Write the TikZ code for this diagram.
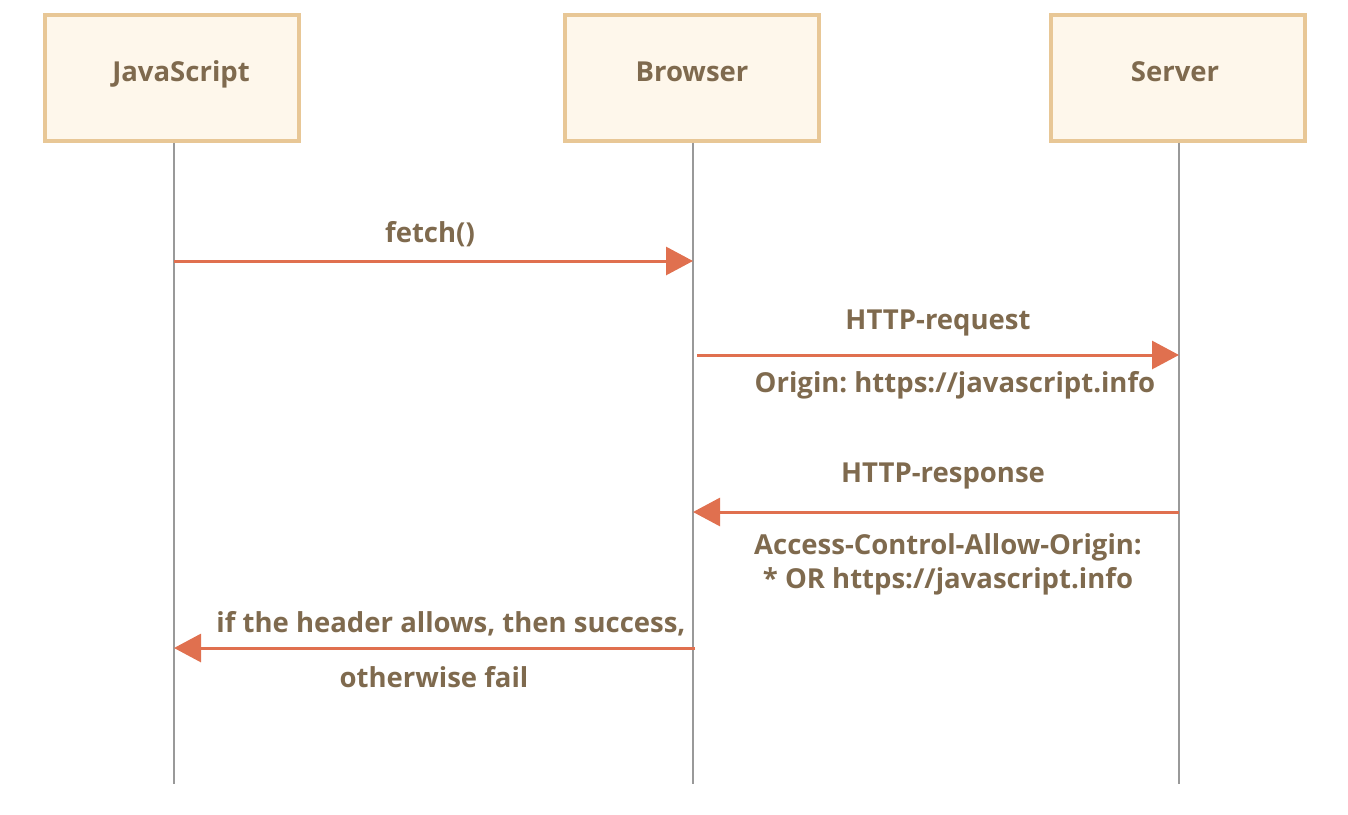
\documentclass[tikz,border=0pt]{standalone}
\usepackage{fontspec}
\setmainfont{Open Sans}
\frenchspacing
\usetikzlibrary{arrows.meta}
\definecolor{boxfill}{HTML}{FEF7EB}
\definecolor{boxline}{HTML}{E8C796}
\definecolor{txt}{HTML}{7F6A4E}
\definecolor{arr}{HTML}{E0704F}
\definecolor{life}{HTML}{999999}
\begin{document}
\begin{tikzpicture}[x=1pt,y=-1pt,
  actor/.style={draw=boxline,fill=boxfill,line width=4pt,minimum width=254pt,minimum height=126pt,inner sep=0pt},
  lbl/.style={text=txt,font=\fontsize{27.5}{34}\selectfont\bfseries\frenchspacing,inner sep=0pt,anchor=base},
  lifeline/.style={draw=life,line width=2pt},
  msg/.style={draw=arr,line width=3pt,-{Triangle[length=27pt,width=28pt]}}]
\useasboundingbox (0,0) rectangle (1348,814);
\node[actor] (js) at (171.5,77.5) {};
\node[actor] (br) at (691.5,77.5) {};
\node[actor] (sv) at (1177.5,77.5) {};
\node[lbl] (jst) at (181,81) {JavaScript};
\node[lbl] (brt) at (692,81) {Browser};
\node[lbl] (svt) at (1175,81) {Server};
\coordinate (jsE) at (174,784);
\coordinate (brE) at (693,784);
\coordinate (svE) at (1179,784);
\draw[lifeline] (js.south -| jsE) -- (jsE);
\draw[lifeline] (br.south -| brE) -- (brE);
\draw[lifeline] (sv.south -| svE) -- (svE);
% messages
\coordinate (m1a) at (174,261); \coordinate (m1b) at (693,261);
\coordinate (m2a) at (697,355); \coordinate (m2b) at (1179,355);
\coordinate (m3a) at (1179,512); \coordinate (m3b) at (693,512);
\coordinate (m4a) at (695,648); \coordinate (m4b) at (174,648);
\draw[msg] (m1a) -- (m1b);
\draw[msg] (m2a) -- (m2b);
\draw[msg] (m3a) -- (m3b);
\draw[msg] (m4a) -- (m4b);
\node[lbl] (l1) at (430,242) {fetch()};
\node[lbl] (l2) at (938,329) {HTTP-request};
\node[lbl] (l3) at (955,392) {Origin: https://javascript.info};
\node[lbl] (l4) at (943,482) {HTTP-response};
\node[lbl] (l5) at (948,554) {Access-Control-Allow-Origin:};
\node[lbl] (l5b) at (948,588) {* OR https://javascript.info};
\node[lbl] (l6) at (451,632) {if the header allows, then success,};
\node[lbl] (l7) at (434,687) {otherwise fail};
\end{tikzpicture}
\end{document}
